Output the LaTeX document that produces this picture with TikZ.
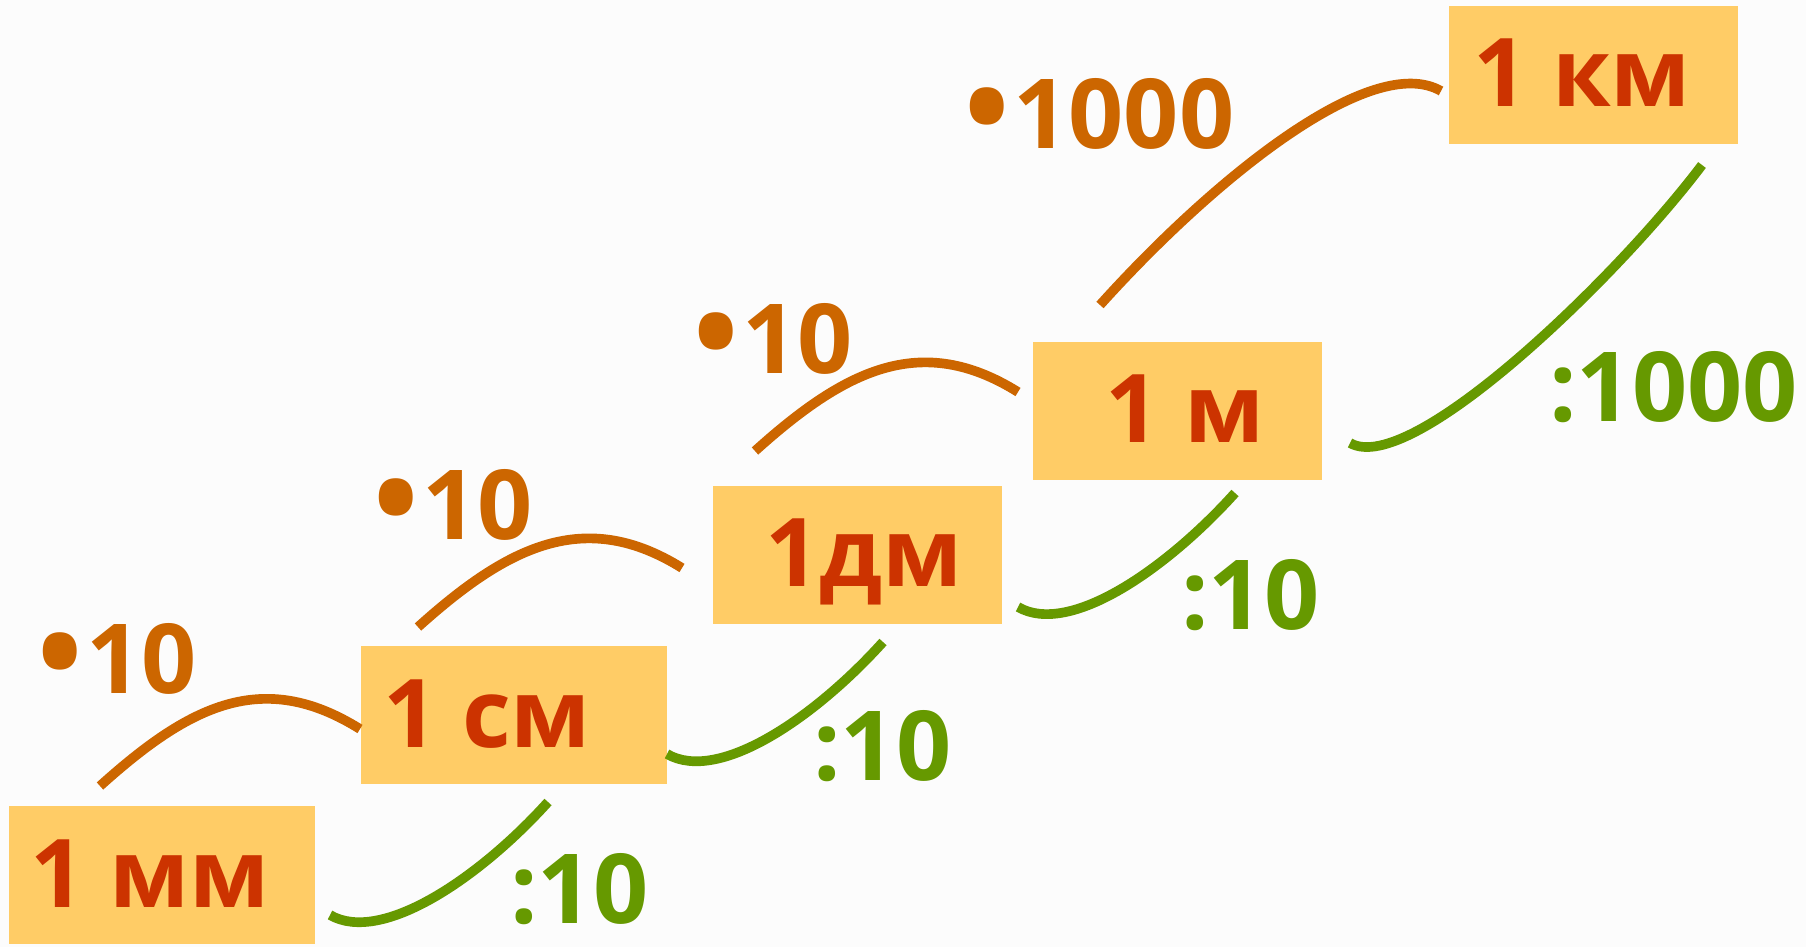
\documentclass[tikz,border=0pt]{standalone}
\usepackage{fontspec}
\setmainfont{Open Sans}
\definecolor{paper}{RGB}{252,252,252}
\definecolor{boxfill}{RGB}{255,204,102}
\definecolor{brick}{RGB}{204,51,0}
\definecolor{pumpkin}{RGB}{204,102,0}
\definecolor{leafgreen}{RGB}{102,153,0}
\newcommand{\bigdot}{\raisebox{-0.03em}{\scalebox{1.25}{•}}\kern0.04em}

\begin{document}
\begin{tikzpicture}[x=0.02cm,y=0.02cm]
      \tikzstyle{unitbox}=[fill=boxfill,minimum height=2.76cm,inner sep=0pt]
      \tikzstyle{unit}=[anchor=base west,inner sep=0pt,text=brick,font=\fontsize{54}{60}\selectfont\bfseries]
      \tikzstyle{times}=[anchor=base west,inner sep=0pt,text=pumpkin,font=\fontsize{55}{60}\selectfont\bfseries]
      \tikzstyle{divide}=[anchor=base west,inner sep=0pt,text=leafgreen,font=\fontsize{55}{60}\selectfont\bfseries]
      \tikzstyle{up}=[color=pumpkin,line width=5.5pt]
      \tikzstyle{down}=[color=leafgreen,line width=5.5pt]
      \useasboundingbox (0,0) rectangle (1806,-947);
      \fill[paper] (0,0) rectangle (1806,-947);
      \node[unitbox,minimum width=6.12cm] (mm) at (162,-875) {};
      \node[unitbox,minimum width=6.12cm] (cm) at (514,-715) {};
      \node[unitbox,minimum width=5.78cm] (dm) at (857.5,-555) {};
      \node[unitbox,minimum width=5.78cm] (m) at (1177.5,-411) {};
      \node[unitbox,minimum width=5.78cm] (km) at (1593.5,-75) {};
      \node[unit] (mm_text) at (30,-907) {1 мм};
      \node[unit] (cm_text) at (383,-747) {1 см};
      \node[unit] (dm_text) at (765,-586) {1дм};
      \node[unit] (m_text) at (1105,-442) {1 м};
      \node[unit] (km_text) at (1473,-106) {1 км};
      \node[times] (t_1) at (37,-693) {\bigdot10};
      \node[times] (t_2) at (373,-539) {\bigdot10};
      \node[times] (t_3) at (693,-373) {\bigdot10};
      \node[times] (t_4) at (964,-148) {\bigdot1000};
      \node[divide] (d_1) at (510,-923) {:10};
      \node[divide] (d_2) at (813,-780) {:10};
      \node[divide] (d_3) at (1181,-629) {:10};
      \node[divide] (d_4) at (1549,-421) {:1000};
      \coordinate (a_1) at (100,-786);
      \coordinate (b_1) at (360,-729);
      \coordinate (a_2) at (418,-627);
      \coordinate (b_2) at (682,-568);
      \coordinate (a_3) at (755,-451);
      \coordinate (b_3) at (1018,-392);
      \coordinate (a_4) at (1100,-305);
      \coordinate (b_4) at (1441,-91);
      \coordinate (c_1) at (330,-915);
      \coordinate (e_1) at (548,-802);
      \coordinate (c_2) at (667,-754);
      \coordinate (e_2) at (883,-642);
      \coordinate (c_3) at (1018,-607);
      \coordinate (e_3) at (1235,-493);
      \coordinate (c_4) at (1350,-443);
      \coordinate (e_4) at (1702,-165);
      \draw[up] (a_1) .. controls +(42:120) and +(148:115) .. (b_1);
      \draw[up] (a_2) .. controls +(42:120) and +(148:115) .. (b_2);
      \draw[up] (a_3) .. controls +(42:120) and +(148:115) .. (b_3);
      \draw[up] (a_4) .. controls +(48:170) and +(150:80) .. (b_4);
      \draw[down] (c_1) .. controls +(-30:60) and +(228:100) .. (e_1);
      \draw[down] (c_2) .. controls +(-30:60) and +(228:100) .. (e_2);
      \draw[down] (c_3) .. controls +(-30:60) and +(228:100) .. (e_3);
      \draw[down] (c_4) .. controls +(-30:70) and +(233:140) .. (e_4);
    \end{tikzpicture}
\end{document}
